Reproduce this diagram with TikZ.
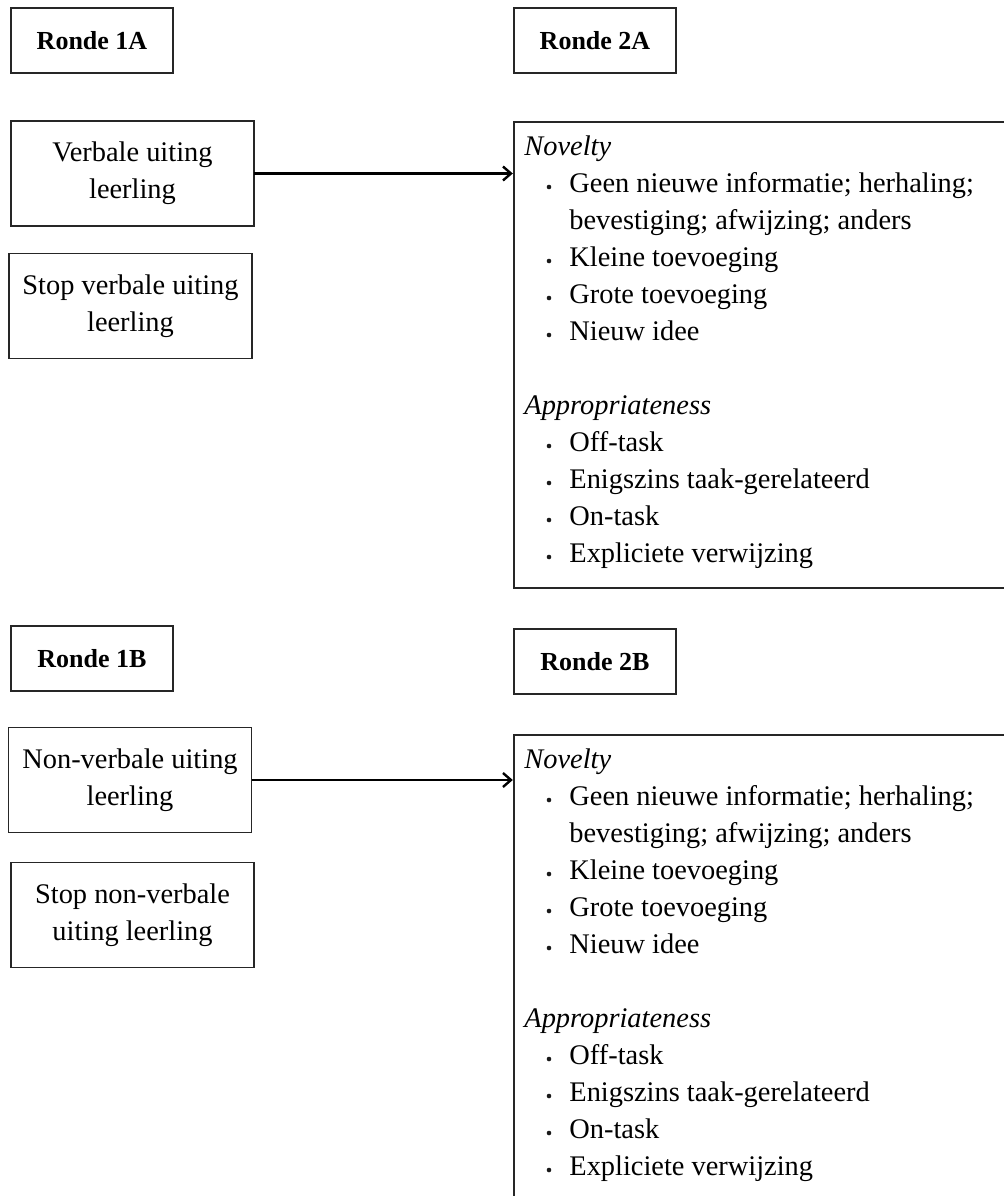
\documentclass[tikz,border=0pt]{standalone}
\usepackage{fontspec}
\setmainfont{Liberation Serif}
\usetikzlibrary{arrows.meta}

% Contents of one coding panel; #1 is the prefix for the node names.
% Local coordinates: origin at the panel's top edge, baselines 37 units apart.
\newcommand\codingpanel[1]{%
  \node[cat] (#1-nov) at (524,33) {Novelty};
  \foreach \k/\t in {1/{Geen nieuwe informatie; herhaling;},
                     3/{Kleine toevoeging},
                     4/{Grote toevoeging},
                     5/{Nieuw idee}}{
    \fill[black!90] (549,33+37*\k-5) circle[radius=1.15pt];
    \node[item] (#1-\k) at (569,33+37*\k) {\t};
  }
  \node[item] (#1-2) at (569,33+37*2) {bevestiging; afwijzing; anders};
  \node[cat] (#1-app) at (524,33+37*7) {Appropriateness};
  \foreach \k/\t in {8/{Off-task},
                     9/{Enigszins taak-gerelateerd},
                     10/{On-task},
                     11/{Expliciete verwijzing}}{
    \fill[black!90] (549,33+37*\k-5) circle[radius=1.15pt];
    \node[item] (#1-\k) at (569,33+37*\k) {\t};
  }
}

\begin{document}
\begin{tikzpicture}[x=0.5pt,y=-0.5pt,
  box/.style={draw=black!85,line width=0.65pt,rectangle,inner sep=0pt,outer sep=0pt},
  head/.style={box,minimum width=81pt,minimum height=32.5pt,
               font=\fontsize{13}{15}\selectfont\bfseries},
  utter/.style={box,minimum width=121.5pt,minimum height=52.5pt,align=center,
                font=\fontsize{14.2}{18.5}\selectfont},
  panel/.style={box,anchor=north west,minimum width=300pt},
  cat/.style={anchor=base west,inner sep=0pt,font=\fontsize{14.2}{16}\selectfont\itshape},
  item/.style={anchor=base west,inner sep=0pt,font=\fontsize{14.2}{16}\selectfont},
  flow/.style={line width=1.15pt,shorten >=0.6pt,
               -{Straight Barb[length=4pt,width=7pt,line width=1.2pt]}}]

\useasboundingbox (0,0) rectangle (1004,1196);
\clip (0,0) rectangle (1004,1196);

% round headings
\node[head] (r1a) at (92,40.5)   {Ronde 1A};
\node[head] (r2a) at (595,40.5)  {Ronde 2A};
\node[head] (r1b) at (92,658.5)  {Ronde 1B};
\node[head] (r2b) at (595,661.5) {Ronde 2B};

% pupil utterances
\node[utter] (verb)     at (132.5,173.5) {Verbale uiting\\leerling};
\node[utter] (stopverb) at (130.5,306)   {Stop verbale uiting\\leerling};
\node[utter] (nonverb)  at (130,780)     {Non-verbale uiting\\leerling};
\node[utter] (stopnon)  at (132.5,915)   {Stop non-verbale\\uiting leerling};

% coding panels
\node[panel,minimum height=233pt] (panelA) at (514,122) {};
\node[panel,minimum height=300pt] (panelB) at (514,735) {};

\begin{scope}[shift={(0,122)}]
  \codingpanel{a}
\end{scope}
\begin{scope}[shift={(0,735)}]
  \codingpanel{b}
\end{scope}

% connectors
\draw[flow] (verb.east) -- (verb.east -| panelA.west);
\draw[flow] (nonverb.east) -- (nonverb.east -| panelB.west);
\end{tikzpicture}
\end{document}
